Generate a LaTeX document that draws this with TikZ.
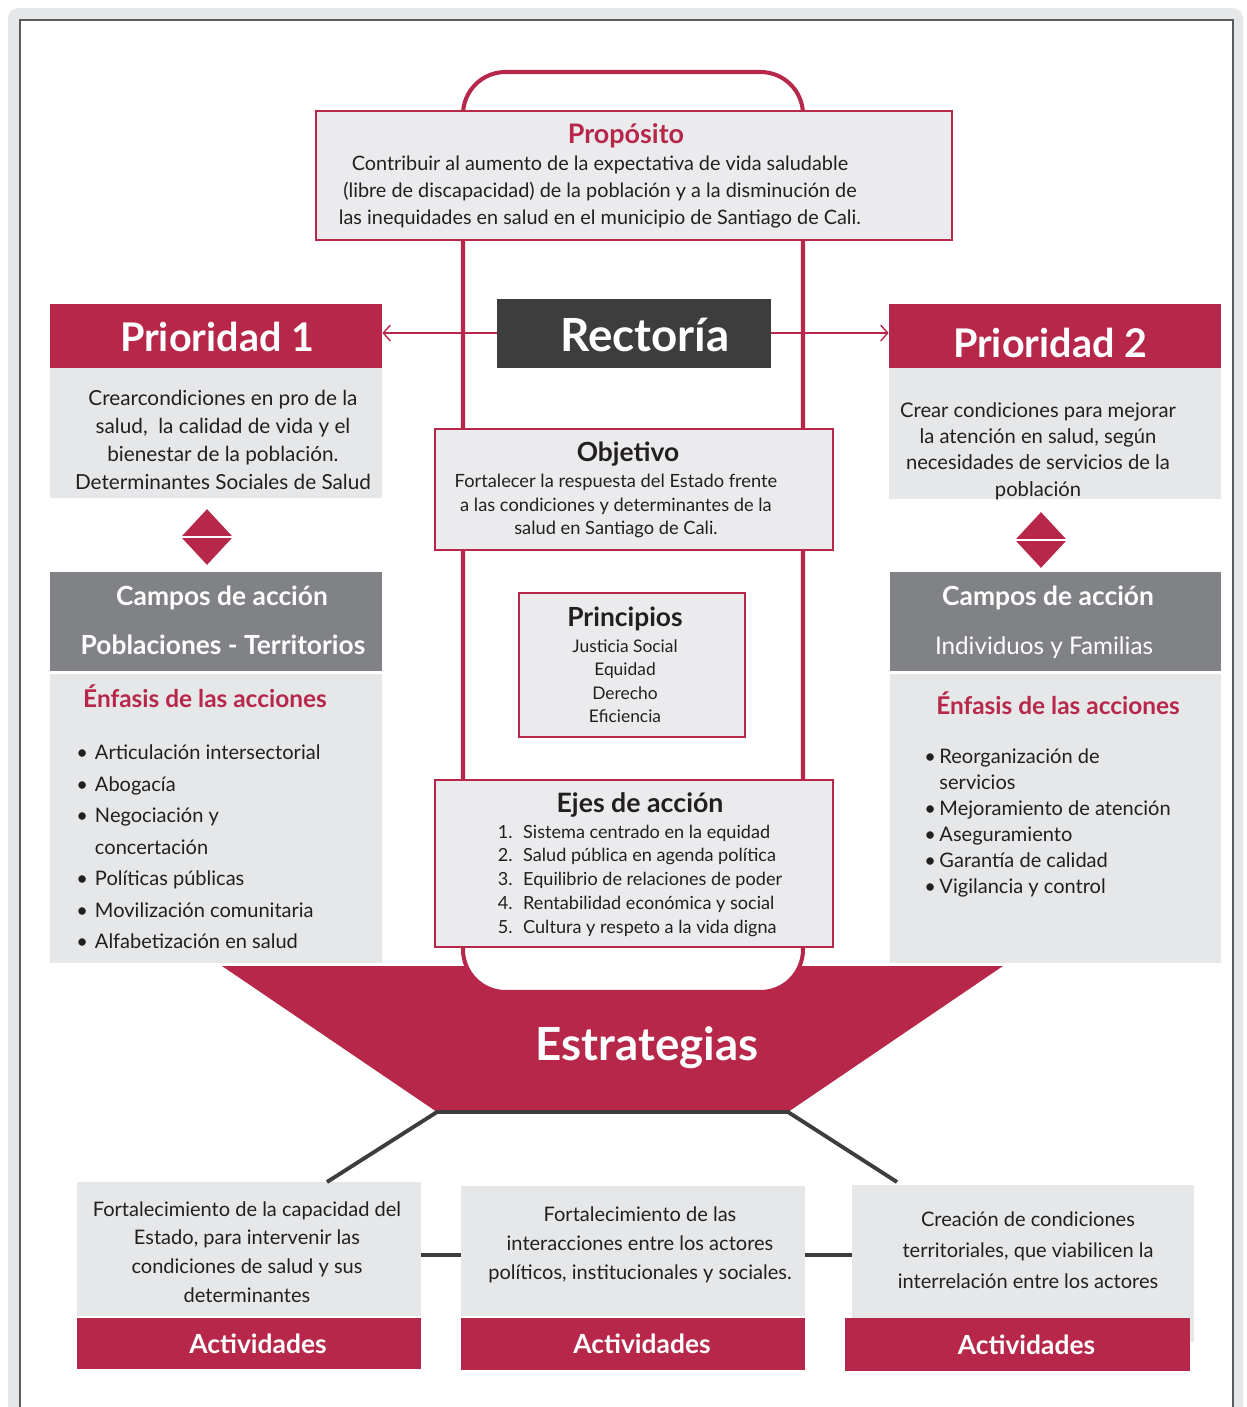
\documentclass[tikz,border=0pt]{standalone}
\usepackage{fontspec}
\setmainfont{Lato}
\usetikzlibrary{shapes.geometric,arrows.meta}
\definecolor{carmin}{RGB}{183,39,74}
\definecolor{grisosc}{RGB}{61,61,61}
\definecolor{grismed}{RGB}{128,130,133}
\definecolor{grisclaro}{RGB}{230,231,232}
\definecolor{griscaja}{RGB}{235,235,237}
\definecolor{texto}{RGB}{35,31,32}
\newlength\pxu
\setlength\pxu{0.02cm}
\newcommand\fs[2]{\fontsize{#1}{#2}\selectfont}
\tikzset{
  caja/.style={draw=carmin, line width=0.9pt, fill=griscaja, inner sep=0pt},
  cabeza/.style={fill=carmin, text=white, font=\bfseries\fs{15}{15}, inner sep=0pt},
  gris/.style={fill=grisclaro, inner sep=0pt},
  campo/.style={fill=grismed, inner sep=0pt},
  rombo/.style={diamond, fill=carmin, inner sep=0pt, minimum width=52\pxu, minimum height=56\pxu},
  texto/.style={text=texto, align=center, inner sep=0pt},
  titulo/.style={text=texto, font=\bfseries\fs{15}{15}, inner sep=0pt},
  flecha/.style={carmin, line width=0.8pt, -{Straight Barb[length=4pt,width=9pt]}},
  enlace/.style={grisosc, line width=2.2pt},
}
\begin{document}
\begin{tikzpicture}[x=0.02cm,y=-0.02cm]
\useasboundingbox (0,0) rectangle (1247,1407);
% marco
\fill[grisclaro, rounded corners=6pt] (8,8) rectangle (1243,1430);
\fill[white] (20,20) rectangle (1233,1430);
\draw[grismed!70!black, line width=0.6pt] (20,1430) -- (20,20) -- (1233,20) -- (1233,1430);
% estrategias
\coordinate (e1) at (437,1112);
\coordinate (e2) at (788,1112);
\fill[carmin] (222,966) -- (1003,966) -- (e2) -- (e1) -- cycle;
\node[text=white, font=\bfseries\fs{26}{26}] (estr) at (647,1048) {Estrategias};
% eje central
\draw[carmin, line width=2.3pt, fill=white, rounded corners=0.85cm] (463,72) rectangle (803,992);
% proposito
\node[caja, minimum width=636\pxu, minimum height=129\pxu] (prop) at (634,175.5) {};
\node[text=carmin, font=\bfseries\fs{15.3}{15.3}] (propt) at (626,136) {Propósito};
\node[texto, font=\fs{11.3}{15.1}] (propc) at (600,192)
  {Contribuir al aumento de la expectativa de vida saludable\\
   (libre de discapacidad) de la población y a la disminución de\\
   las inequidades en salud en el municipio de Santiago de Cali.};
% rectoria
\node[fill=grisosc, inner sep=0pt, minimum width=274\pxu, minimum height=69\pxu] (rect) at (634,333) {};
\node[text=white, font=\bfseries\fs{26}{26}] (rectt) at (645,335) {Rectoría};
% prioridad 1
\node[cabeza, minimum width=332\pxu, minimum height=64\pxu] (p1h) at (216,336) {};
\node[text=white, font=\bfseries\fs{22.5}{22.5}] (p1ht) at (217,337) {Prioridad 1};
\node[gris, minimum width=332\pxu, minimum height=130\pxu] (p1b) at (216,433) {};
\node[texto, font=\fs{11.8}{16}] (p1t) at (223,440)
  {Crearcondiciones en pro de la\\ salud,\ \ la calidad de vida y el\\ bienestar de la población.\\ Determinantes Sociales de Salud};
\node[rombo] (dia1) at (207,537) {};
\draw[white, line width=1.2pt] (dia1.west) -- (dia1.east);
\node[campo, minimum width=332\pxu, minimum height=99\pxu] (c1h) at (216,621.5) {};
\node[text=white, font=\bfseries\fs{15}{15}] (c1a) at (222,598) {Campos de acción};
\node[text=white, font=\bfseries\fs{15}{15}] (c1b) at (223,645) {Poblaciones - Territorios};
\node[gris, minimum width=332\pxu, minimum height=289\pxu] (c1c) at (216,818.5) {};
\node[text=carmin, font=\bfseries\fs{13.9}{13.9}] (enf1) at (205,696) {Énfasis de las acciones};
\node[texto, anchor=west, font=\fs{11.4}{17.9}] (l1) at (76,848)
  {\begin{tabular}{@{}l@{\hspace{4pt}}l@{}}
   • & Articulación intersectorial\\
   • & Abogacía\\
   • & Negociación y\\
     & concertación\\
   • & Políticas públicas\\
   • & Movilización comunitaria\\
   • & Alfabetización en salud
   \end{tabular}};
% prioridad 2
\node[cabeza, minimum width=332\pxu, minimum height=64\pxu] (p2h) at (1055,336) {};
\node[text=white, font=\bfseries\fs{22.5}{22.5}] (p2ht) at (1050,343) {Prioridad 2};
\node[gris, minimum width=332\pxu, minimum height=131\pxu] (p2b) at (1055,433.5) {};
\node[texto, font=\fs{11.5}{15}] (p2t) at (1038,451)
  {Crear condiciones para mejorar\\ la atención en salud, según\\ necesidades de servicios de la\\ población};
\node[rombo] (dia2) at (1041,540) {};
\draw[white, line width=1.2pt] (dia2.west) -- (dia2.east);
\node[campo, minimum width=331\pxu, minimum height=99\pxu] (c2h) at (1055.5,621.5) {};
\node[text=white, font=\bfseries\fs{15}{15}] (c2a) at (1048,598) {Campos de acción};
\node[text=white, font=\fs{13.8}{13.8}] (c2b) at (1044,648) {Individuos y Familias};
\node[gris, minimum width=331\pxu, minimum height=289\pxu] (c2c) at (1055.5,818.5) {};
\node[text=carmin, font=\bfseries\fs{13.9}{13.9}] (enf2) at (1058,703) {Énfasis de las acciones};
\node[texto, anchor=west, font=\fs{11.4}{14.8}] (l2) at (924,823)
  {\begin{tabular}{@{}l@{\hspace{2pt}}l@{}}
   • & Reorganización de\\
     & servicios\\
   • & Mejoramiento de atención\\
   • & Aseguramiento\\
   • & Garantía de calidad\\
   • & Vigilancia y control
   \end{tabular}};
% flechas de rectoria
\draw[flecha] (rect.west) -- (rect.west -| p1h.east);
\draw[flecha] (rect.east) -- (rect.east -| p2h.west);
% objetivo
\node[caja, minimum width=398\pxu, minimum height=121\pxu] (obj) at (634,489.5) {};
\node[titulo] (objt) at (628,454) {Objetivo};
\node[texto, font=\fs{10.4}{13.6}] (objc) at (616,506)
  {Fortalecer la respuesta del Estado frente\\
   a las condiciones y determinantes de la\\
   salud en Santiago de Cali.};
% principios
\node[caja, minimum width=226\pxu, minimum height=144\pxu] (prin) at (632,665) {};
\node[titulo] (print) at (625,619) {Principios};
\node[texto, font=\fs{9.9}{13.4}] (princ) at (625,681)
  {Justicia Social\\ Equidad\\ Derecho\\ Eficiencia};
% ejes de accion
\node[caja, minimum width=398\pxu, minimum height=167\pxu] (ejes) at (634,863.5) {};
\node[titulo, font=\bfseries\fs{15.2}{15.2}] (ejest) at (640,805) {Ejes de acción};
\node[texto, font=\fs{10.3}{13.6}] (ejesc) at (640,881)
  {\begin{tabular}{@{}r@{\hspace{6pt}}l@{}}
   1. & Sistema centrado en la equidad\\
   2. & Salud pública en agenda política\\
   3. & Equilibrio de relaciones de poder\\
   4. & Rentabilidad económica y social\\
   5. & Cultura y respeto a la vida digna
   \end{tabular}};
% estrategias de abajo
\node[gris, minimum width=344\pxu, minimum height=134\pxu] (b1) at (249,1249) {};
\node[texto, font=\fs{11.4}{16.4}] (t1) at (247,1252)
  {Fortalecimiento de la capacidad del\\ Estado, para intervenir las\\ condiciones de salud y sus\\ determinantes};
\node[cabeza, minimum width=344\pxu, minimum height=51\pxu] (a1) at (249,1343.5) {\hspace*{18\pxu}Actividades};
\node[gris, minimum width=344\pxu, minimum height=130\pxu] (b2) at (633,1251) {};
\node[texto, font=\fs{11.4}{16.4}] (t2) at (640,1245)
  {Fortalecimiento de las\\ interacciones entre los actores\\ políticos, institucionales y sociales.};
\node[cabeza, minimum width=344\pxu, minimum height=52\pxu] (a2) at (633,1344) {\hspace*{18\pxu}Actividades};
\node[gris, minimum width=342\pxu, minimum height=157\pxu] (b3) at (1023,1263.5) {};
\node[texto, font=\fs{11.4}{17.6}] (t3) at (1028,1250)
  {Creación de condiciones\\ territoriales, que viabilicen la\\ interrelación entre los actores};
\node[cabeza, minimum width=345\pxu, minimum height=53\pxu] (a3) at (1017.5,1344.5) {\hspace*{18\pxu}Actividades};
% conectores
\coordinate (d1) at (327,1182);
\coordinate (d3) at (897,1182);
\draw[enlace, line join=miter] (d1) -- (e1) -- (e2) -- (d3);
\draw[enlace] (b1.east |- 0,1255) -- (b2.west |- 0,1255);
\draw[enlace] (b2.east |- 0,1255) -- (b3.west |- 0,1255);
\end{tikzpicture}
\end{document}
